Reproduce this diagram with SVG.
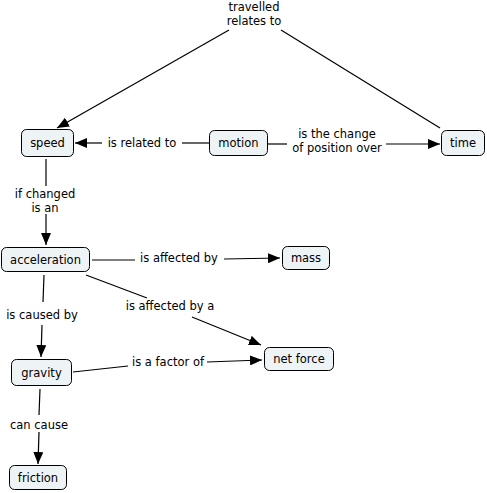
<svg xmlns="http://www.w3.org/2000/svg" width="487" height="493" viewBox="0 0 487 493">
<style>
.node rect{fill:#eef3f6;stroke:#000;stroke-width:1}
text{font-family:"DejaVu Sans",Verdana,sans-serif;font-size:11.5px;fill:#000;text-anchor:middle}
.conn line{stroke:#000;stroke-width:1.2}
.arr{marker-end:url(#ah)}
</style>
<defs>
<marker id="ah" markerWidth="12" markerHeight="10" viewBox="0 0 12 10" refX="12" refY="5" orient="auto" markerUnits="userSpaceOnUse">
<path d="M0,0 L12,5 L0,10 Z" fill="#000"/>
</marker>
</defs>
<rect width="487" height="493" fill="#fff"/>
<g class="conn">
<line x1="229" y1="30" x2="57" y2="128" class="arr"/>
<line x1="281" y1="30" x2="440" y2="128"/>
<line x1="209" y1="143" x2="182" y2="143"/>
<line x1="102" y1="143" x2="75" y2="143" class="arr"/>
<line x1="267" y1="144" x2="287" y2="144"/>
<line x1="386" y1="144" x2="440" y2="144" class="arr"/>
<line x1="46" y1="159" x2="46" y2="186"/>
<line x1="46" y1="214" x2="46" y2="245" class="arr"/>
<line x1="92" y1="260" x2="135" y2="260"/>
<line x1="224" y1="259" x2="280" y2="258" class="arr"/>
<line x1="86" y1="275" x2="147" y2="298"/>
<line x1="192" y1="317" x2="261" y2="345" class="arr"/>
<line x1="44" y1="275" x2="43" y2="302"/>
<line x1="42" y1="325" x2="41" y2="357" class="arr"/>
<line x1="73" y1="372" x2="128" y2="366"/>
<line x1="207" y1="362" x2="262" y2="360" class="arr"/>
<line x1="40" y1="389" x2="39" y2="415"/>
<line x1="39" y1="432" x2="38" y2="464" class="arr"/>
</g>
<g id="labels">
<text x="254" y="11">travelled</text>
<text x="254" y="25">relates to</text>
<text x="142" y="147">is related to</text>
<text x="337" y="138">is the change</text>
<text x="337" y="152">of position over</text>
<text x="45" y="198">if changed</text>
<text x="45" y="212">is an</text>
<text x="179" y="262">is affected by</text>
<text x="170" y="310">is affected by a</text>
<text x="42" y="319">is caused by</text>
<text x="168" y="366">is a factor of</text>
<text x="39" y="429">can cause</text>
</g>
<g id="speed" class="node"><rect x="21.5" y="129.5" width="52" height="27" rx="5"/><text x="47.5" y="147">speed</text></g>
<g id="motion" class="node"><rect x="209.5" y="130.5" width="58" height="25" rx="5"/><text x="238.5" y="147">motion</text></g>
<g id="time" class="node"><rect x="441.5" y="130.5" width="43" height="25" rx="5"/><text x="463" y="147">time</text></g>
<g id="acceleration" class="node"><rect x="1.5" y="247.5" width="88" height="24" rx="5"/><text x="45.5" y="264">acceleration</text></g>
<g id="mass" class="node"><rect x="282.5" y="246.5" width="47" height="23" rx="5"/><text x="306" y="262">mass</text></g>
<g id="net-force" class="node"><rect x="264.5" y="347.5" width="69" height="23" rx="5"/><text x="299" y="363">net force</text></g>
<g id="gravity" class="node"><rect x="11.5" y="359.5" width="60" height="26" rx="5"/><text x="41.5" y="377">gravity</text></g>
<g id="friction" class="node"><rect x="9.5" y="465.5" width="57" height="24" rx="5"/><text x="38" y="482">friction</text></g>
</svg>
